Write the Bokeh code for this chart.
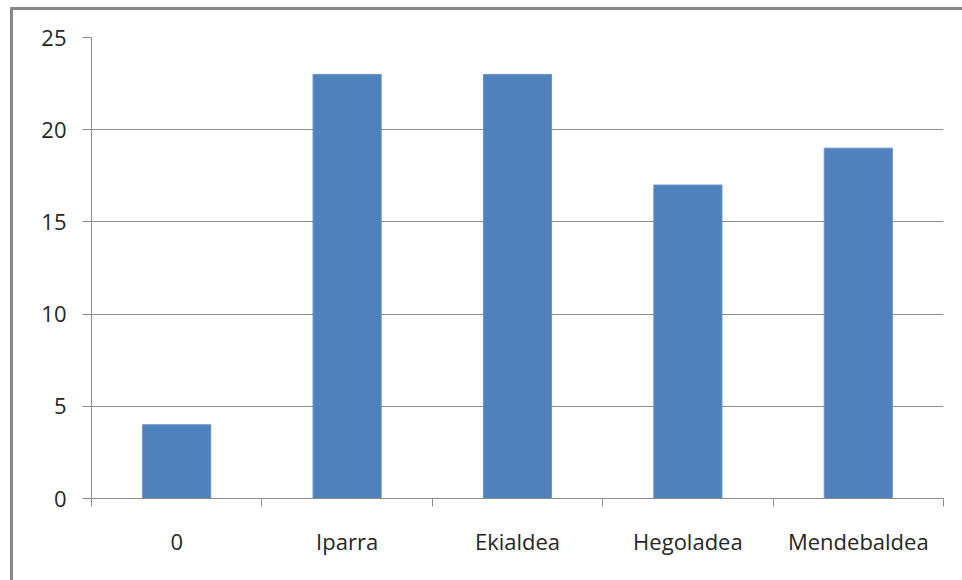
from bokeh.plotting import figure
from bokeh.models import Range1d, FixedTicker
from bokeh.embed import file_html
from bokeh.resources import INLINE
import numpy as np

categories = ["0", "Iparra", "Ekialdea", "Hegoladea", "Mendebaldea"]
values = [4, 23, 23, 17, 19]

xpos = list(np.arange(len(categories)) + 0.5)

p = figure(width=949, height=570, output_backend="svg", toolbar_location=None,
           x_range=Range1d(0, len(categories)), y_range=Range1d(0, 25),
           min_border_left=78, min_border_right=19, min_border_top=27, min_border_bottom=82,
           styles={"margin-left": "10px", "margin-top": "7px",
                   "border-left": "3px solid #868686", "border-top": "3px solid #868686"})
p.frame_width = 852
p.frame_height = 461

p.vbar(x=xpos, top=values, width=0.4, fill_color="#4F81BD", line_color="#6a93c8", line_width=1)

font = "Open Sans"
grid_col = "#8c8c8c"

p.xaxis.ticker = FixedTicker(ticks=xpos, minor_ticks=list(range(len(categories) + 1)))
p.xaxis.major_label_overrides = {x: c for x, c in zip(xpos, categories)}
p.xaxis.major_tick_line_color = None
p.xaxis.major_tick_out = 0
p.xaxis.minor_tick_line_color = grid_col
p.xaxis.minor_tick_out = 8
p.xaxis.minor_tick_in = 0
p.xaxis.major_label_standoff = 19
p.xaxis.axis_line_color = grid_col

p.yaxis.ticker = FixedTicker(ticks=[0, 5, 10, 15, 20, 25])
p.yaxis.major_tick_out = 9
p.yaxis.major_tick_in = 0
p.yaxis.major_tick_line_color = grid_col
p.yaxis.minor_tick_line_color = None
p.yaxis.major_label_standoff = 16
p.yaxis.axis_line_color = grid_col

for ax in (p.xaxis, p.yaxis):
    ax.major_label_text_font = font
    ax.major_label_text_font_size = "22px"
    ax.major_label_text_color = "#262626"

p.xgrid.grid_line_color = None
p.ygrid.grid_line_color = grid_col
p.ygrid.ticker = FixedTicker(ticks=[5, 10, 15, 20, 25])
p.outline_line_color = None

open("out.html", "w").write(file_html(p, INLINE))
